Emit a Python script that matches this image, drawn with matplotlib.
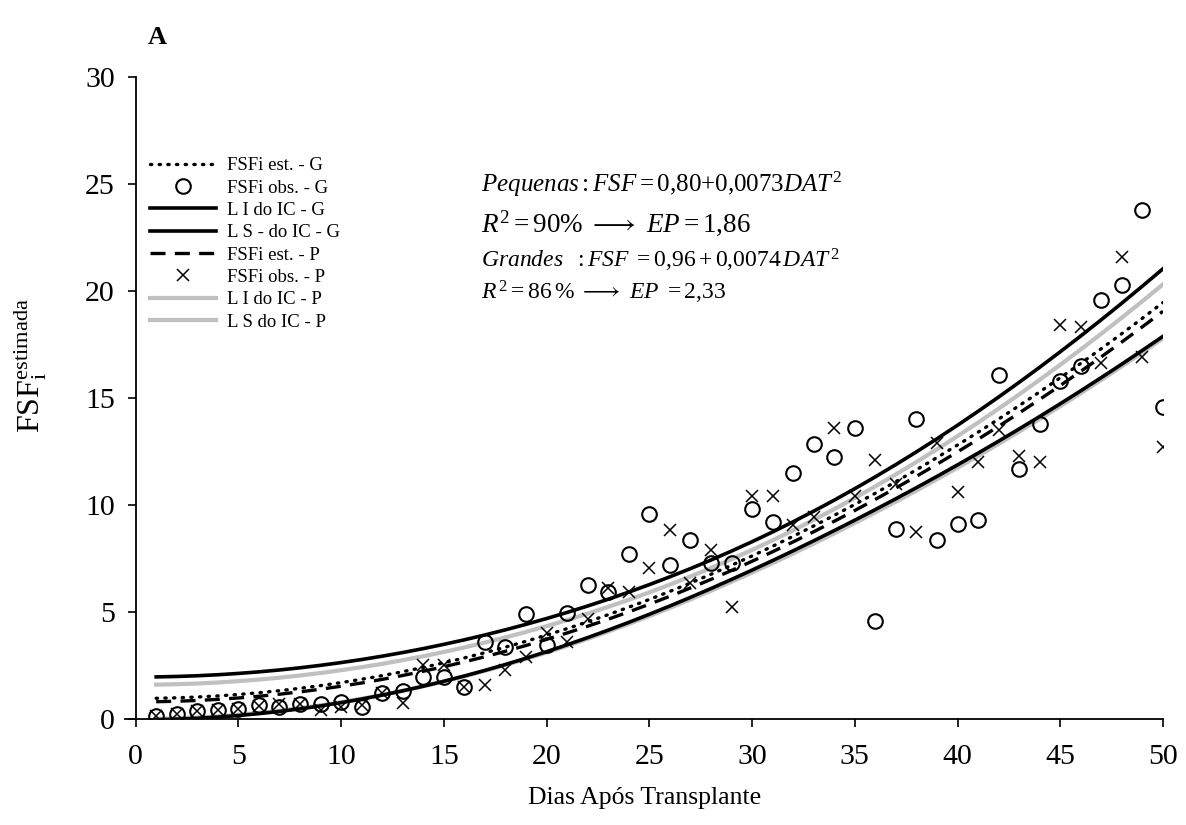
import numpy as np
import matplotlib
matplotlib.use("Agg")
import matplotlib.pyplot as plt

plt.rcParams['font.family'] = ['Liberation Serif', 'DejaVu Serif']
plt.rcParams['mathtext.fontset'] = 'custom'
plt.rcParams['mathtext.rm'] = 'Liberation Serif'
plt.rcParams['mathtext.it'] = 'Liberation Serif:italic'
plt.rcParams['mathtext.bf'] = 'Liberation Serif:bold'

# dias apos transplante
dias = np.arange(1, 51)

# FSFi observada - plantas grandes (circulos)
obs_g = [0.15, 0.25, 0.35, 0.40, 0.45, 0.65, 0.57, 0.68, 0.70, 0.81,
         0.57, 1.20, 1.32, 1.98, 1.98, 1.51, 3.60, 3.38, 4.90, 3.45,
         4.93, 6.26, 5.95, 7.69, 9.58, 7.20, 8.36, 7.30, 7.30, 9.80,
         9.20, 11.50, 12.85, 12.26, 13.60, 4.60, 8.88, 14.00, 8.36, 9.10,
         9.30, 16.07, 11.66, 13.80, 15.80, 16.50, 19.60, 20.30, 23.80, 14.60]

# FSFi observada - plantas pequenas (x)
obs_p = [0.15, 0.25, 0.35, 0.40, 0.45, 0.60, 0.70, 0.68, 0.40, 0.57,
         0.65, 1.20, 0.75, 2.50, 2.50, 1.50, 1.60, 2.30, 2.90, 4.00,
         3.60, 4.65, 6.10, 5.95, 7.04, 8.83, 6.35, 7.90, 5.25, 10.40,
         10.40, 9.05, 9.45, 13.60, 10.40, 12.10, 11.00, 8.75, 12.90, 10.60,
         12.00, 13.50, 12.30, 12.00, 18.40, 18.30, 16.65, 21.60, 16.90, 12.70]

# modelos ajustados (FSF = a + b*DAT^2) e erro padrao
coef_g = [0.96, 0.0074]   # Grandes
coef_p = [0.80, 0.0073]   # Pequenas
ep_g = 2.33
ep_p = 1.86
t_val = 2.01


def ajuste(coef):
    return coef[0] + coef[1] * dias ** 2


def intervalo(est, ep):
    z = dias.astype(float) ** 2
    szz = np.sum((z - z.mean()) ** 2)
    hw = t_val * ep * np.sqrt(1 / len(z) + (z - z.mean()) ** 2 / szz)
    return est - hw, est + hw


est_g = ajuste(coef_g)
est_p = ajuste(coef_p)
li_g, ls_g = intervalo(est_g, ep_g)
li_p, ls_p = intervalo(est_p, ep_p)

fig = plt.figure(figsize=(11.86, 8.25), dpi=100)
ax = fig.add_axes([0.1057, 0.1285, 0.8749, 0.7782])

cinza = '#c0c0c0'
ax.plot(dias, li_p, color=cinza, lw=3.0, label='L I do IC - P', zorder=2)
ax.plot(dias, ls_p, color=cinza, lw=3.0, label='L S do IC - P', zorder=2)
ax.plot(dias, li_g, color='black', lw=2.6, label='L I do IC - G', zorder=3)
ax.plot(dias, ls_g, color='black', lw=2.6, label='L S - do IC - G', zorder=3)
ax.plot(dias, est_g, color='black', lw=2.4, linestyle=(0, (0.4, 2.2)),
        dash_capstyle='round', label='FSFi est. - G', zorder=4)
ax.plot(dias, est_p, color='black', lw=2.4, linestyle=(0, (4.5, 2.8)),
        label='FSFi est. - P', zorder=4)
ax.plot(dias, obs_g, linestyle='none', marker='o', ms=10.5, mfc='none',
        mec='black', mew=1.5, label='FSFi obs. - G', zorder=5)
ax.plot(dias, obs_p, linestyle='none', marker='x', ms=9, mec='black',
        mew=1.1, label='FSFi obs. - P', zorder=5)

ax.set_xlim(-0.5, 50)
ax.set_ylim(0, 30)
ax.set_xticks(range(0, 51, 5))
ax.set_yticks(range(0, 31, 5))
ax.spines['left'].set_position(('data', 0))
ax.spines['top'].set_visible(False)
ax.spines['right'].set_visible(False)
for s in ['left', 'bottom']:
    ax.spines[s].set_linewidth(1.3)
ax.tick_params(direction='out', length=6, width=1.2, labelsize=21.5)
ax.tick_params(axis='x', pad=12)
ax.tick_params(axis='y', pad=9)

ax.set_xlabel('Dias Após Transplante', fontsize=18.5, labelpad=12)
ax.set_ylabel(r'$\mathrm{FSF}_{\mathrm{i}}^{\mathrm{estimada}}$', fontsize=23)
ax.yaxis.set_label_coords(-0.074, 0.55)
fig.text(0.125, 0.955, 'A', fontsize=19, fontweight='bold', va='center')

# ordem da legenda
handles, labels = ax.get_legend_handles_labels()
ordem = ['FSFi est. - G', 'FSFi obs. - G', 'L I do IC - G', 'L S - do IC - G',
         'FSFi est. - P', 'FSFi obs. - P', 'L I do IC - P', 'L S do IC - P']
h = [handles[labels.index(o)] for o in ordem]
ax.legend(h, ordem, loc='upper left', bbox_to_anchor=(0.017, 0.887), frameon=False,
          fontsize=13.5, numpoints=1, handlelength=3.5, handletextpad=0.6,
          labelspacing=0.28, borderaxespad=0)

ax.text(0.343, 0.832, r'$Pequenas: FSF = 0{,}80{+}0{,}0073DAT^2$',
        transform=ax.transAxes, fontsize=18, va='center')
ax.text(0.343, 0.773, r'$R^2 = 90\%\ \longrightarrow\ EP = 1{,}86$',
        transform=ax.transAxes, fontsize=19.5, va='center')
ax.text(0.343, 0.714, r'$Grandes\ \ : FSF\ = 0{,}96 + 0{,}0074\,DAT\,^2$',
        transform=ax.transAxes, fontsize=17, va='center')
ax.text(0.343, 0.665, r'$R\,^2 = 86\,\%\ \longrightarrow\ EP\ = 2{,}33$',
        transform=ax.transAxes, fontsize=17, va='center')

fig.savefig('out.png', dpi=100)
